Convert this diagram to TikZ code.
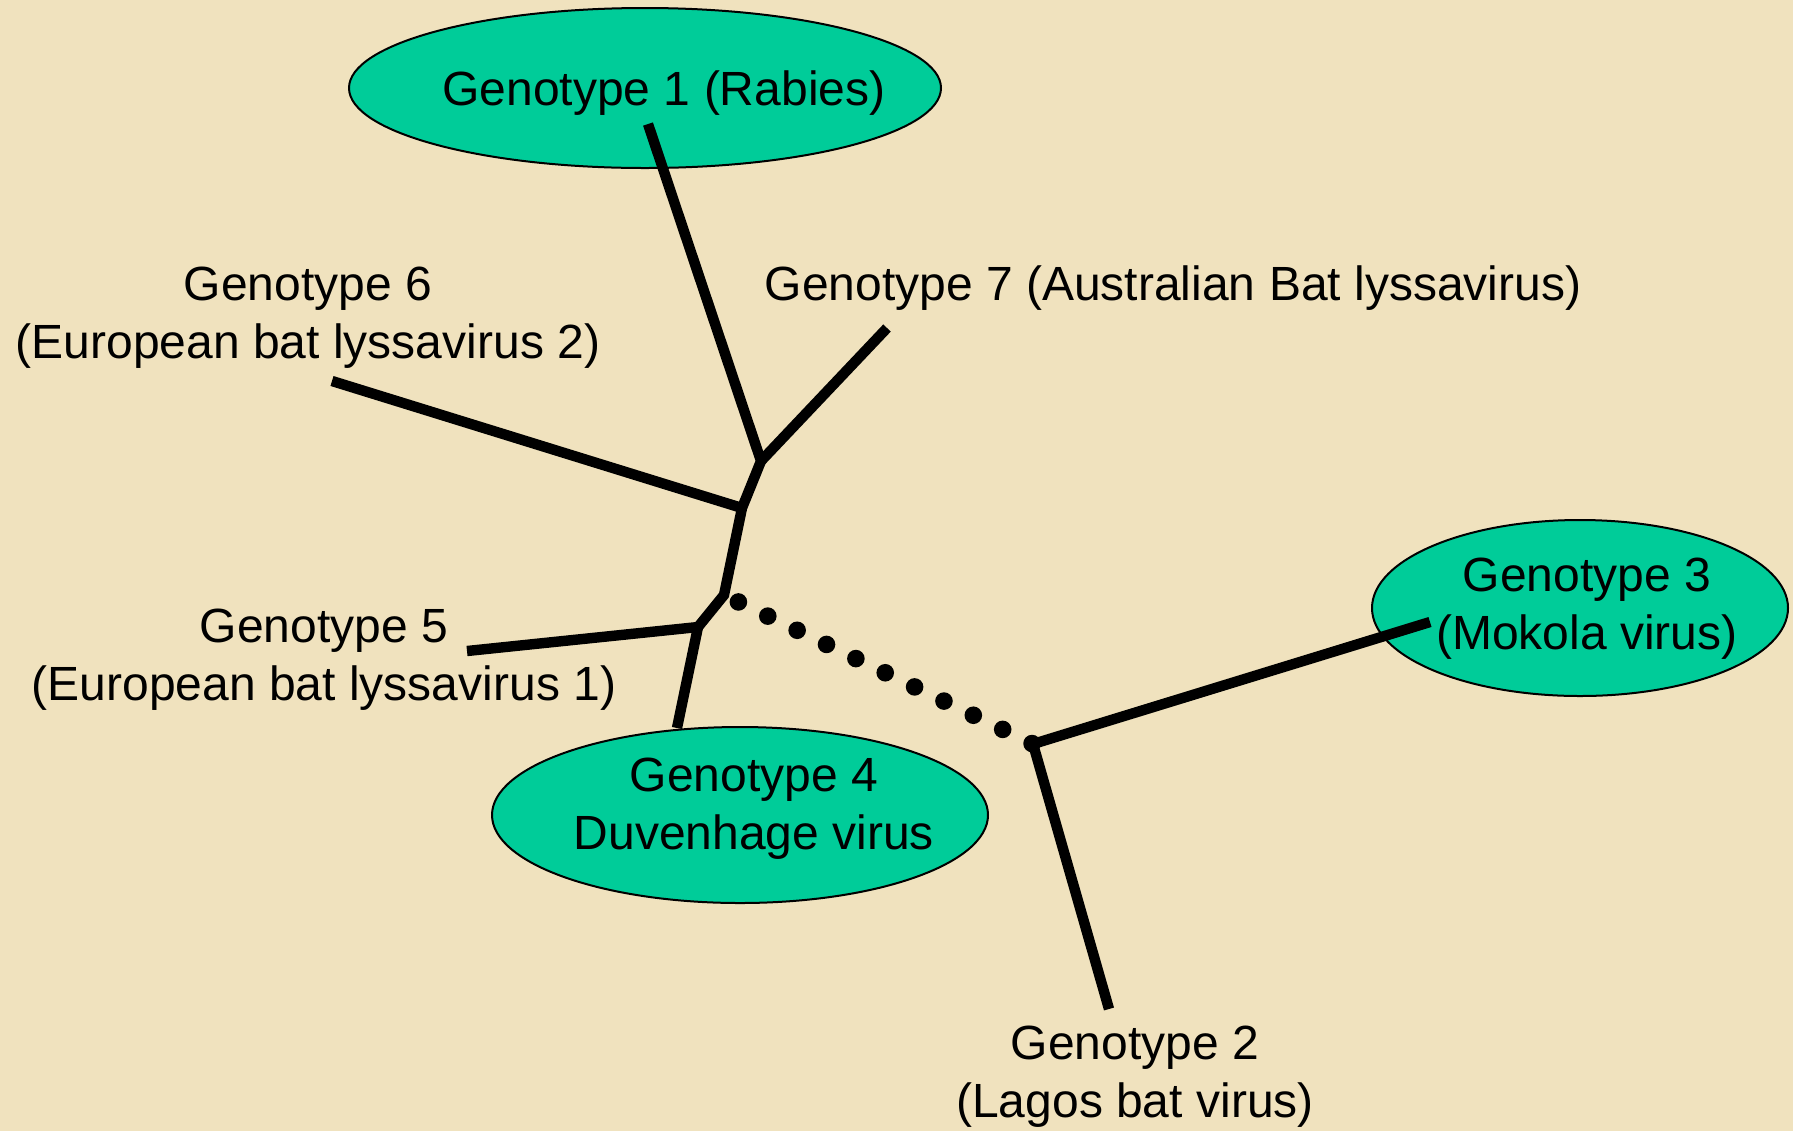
\documentclass[tikz,border=0pt]{standalone}
\usepackage{fontspec}
\setmainfont{Liberation Sans}
\usetikzlibrary{shapes.geometric}
\definecolor{parchment}{HTML}{F0E2BE}
\definecolor{genofill}{HTML}{00CC99}
\begin{document}
\begin{tikzpicture}[x=0.5pt,y=-0.5pt,
  genoshape/.style={ellipse,draw=black,line width=1pt,fill=genofill,inner sep=0pt},
  genotext/.style={align=center,inner sep=0pt,font=\fontsize{24}{29}\selectfont},
  branch/.style={line width=5.2pt,line join=miter},
  dotbranch/.style={line width=8.8pt,line cap=round,dash pattern=on 0pt off 16.3pt,dash phase=8.3pt}]
% paper
\fill[parchment] (0,0) rectangle (1793,1131);
\useasboundingbox (0,0) rectangle (1793,1131);

% highlighted genotypes
\node[genoshape,minimum width=296pt,minimum height=80pt] (g1shape) at (645,88) {};
\node[genoshape,minimum width=208pt,minimum height=88pt] (g3shape) at (1580,608) {};
\node[genoshape,minimum width=248pt,minimum height=88pt] (g4shape) at (740,815) {};

% labels
\node[genotext] (g1text) at (664,93) {Genotype 1 (Rabies)};
\node[genotext] (g3text) at (1587,609) {Genotype 3\\(Mokola virus)};
\node[genotext] (g4text) at (754,809) {Genotype 4\\Duvenhage virus};
\node[genotext] (g6text) at (308,318) {Genotype 6\\(European bat lyssavirus 2)};
\node[genotext] (g7text) at (1173,288) {Genotype 7 (Australian Bat lyssavirus)};
\node[genotext] (g5text) at (324,660) {Genotype 5\\(European bat lyssavirus 1)};
\node[genotext] (g2text) at (1135,1077) {Genotype 2\\(Lagos bat virus)};

% inner branch points
\coordinate (a) at (761,461);
\coordinate (b) at (742,508);
\coordinate (c) at (724,595);
\coordinate (d) at (698,627);
\coordinate (e) at (1033,744);

% leaf ends
\coordinate (g1) at (648,124);
\coordinate (g7) at (887,328);
\coordinate (g6) at (332,381);
\coordinate (g5) at (467,651);
\coordinate (g4) at (677,728);
\coordinate (g3) at (1430,622);
\coordinate (g2) at (1109,1009);

% tree
\draw[branch] (g1) -- (a) -- (b) -- (c) -- (d) -- (g5);
\draw[branch] (a) -- (g7);
\draw[branch] (b) -- (g6);
\draw[branch] (d) -- (g4);
\draw[branch] (g3) -- (e) -- (g2);
\draw[dotbranch] (c) -- (e);
\end{tikzpicture}
\end{document}
